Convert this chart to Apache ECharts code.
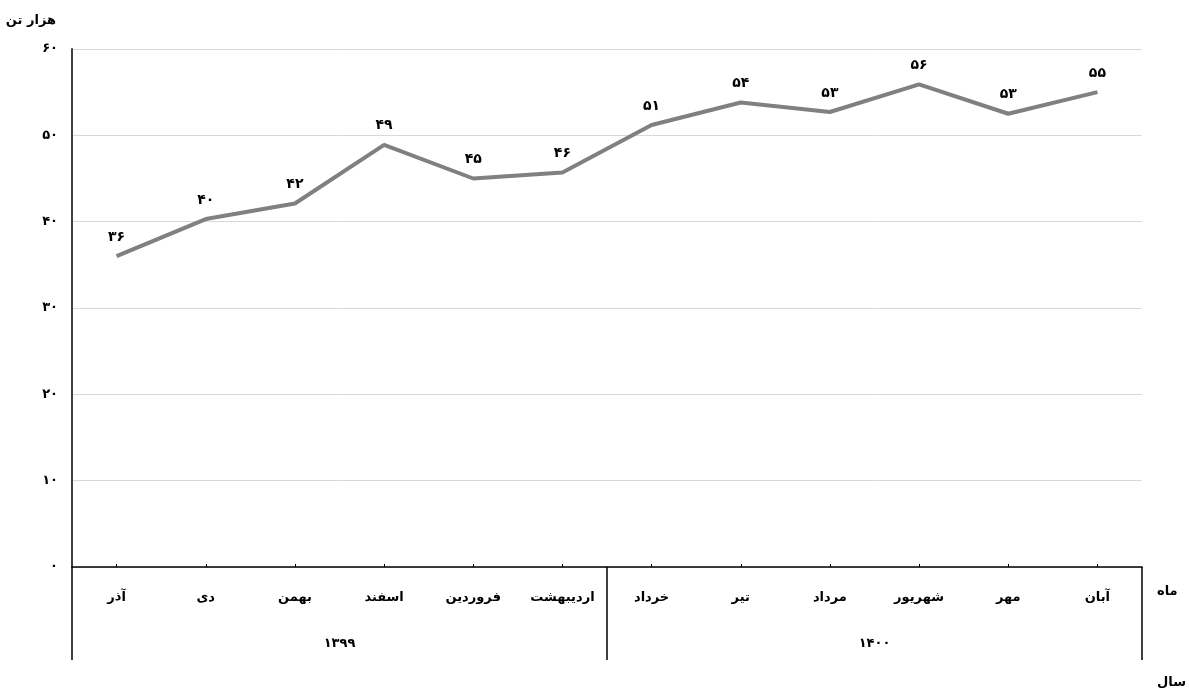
<!DOCTYPE html>
<html><head><meta charset="utf-8">
<script src="https://cdn.jsdelivr.net/npm/echarts@6/dist/echarts.min.js"></script>
<style>html,body{margin:0;padding:0;background:#fff}#c{width:1189px;height:694px}</style>
</head><body><div id="c"></div>
<script>
const months = ['آذر','دی','بهمن','اسفند','فروردین','اردیبهشت','خرداد','تیر','مرداد','شهریور','مهر','آبان'];
const years = ['۱۳۹۹','۱۴۰۰'];
const values = [36.0, 40.3, 42.1, 48.9, 45.0, 45.7, 51.2, 53.8, 52.7, 55.9, 52.5, 55.0];

const fa = n => String(n).replace(/[0-9]/g, d => '۰۱۲۳۴۵۶۷۸۹'[d]);
const FONT = 'DejaVu Sans';

const chart = echarts.init(document.getElementById('c'));
chart.setOption({
  animation: false,
  textStyle: {fontFamily: FONT},
  grid: {left: 72, right: 47, top: 49, bottom: 127},
  xAxis: [{
    type: 'category', data: months, boundaryGap: true, position: 'bottom',
    axisLine: {show: true, lineStyle: {color: '#000', width: 1.5}},
    axisTick: {show: true, inside: true, alignWithLabel: true, length: 3, lineStyle: {color: '#000'}},
    axisLabel: {color: '#000', fontSize: 13, fontWeight: 'bold', margin: 24, fontFamily: FONT},
    splitLine: {show: false}
  }, {
    type: 'category', data: years, boundaryGap: true, position: 'bottom',
    axisLine: {show: false},
    axisTick: {show: true, length: 93, lineStyle: {color: '#000', width: 1.5}},
    axisLabel: {color: '#000', fontSize: 13, fontWeight: 'bold', margin: 70, fontFamily: FONT},
    splitLine: {show: false}
  }],
  yAxis: {
    type: 'value', min: 0, max: 60, interval: 10,
    name: 'هزار تن', nameLocation: 'end', nameGap: 22,
    nameTextStyle: {color: '#000', fontSize: 13, fontWeight: 'bold', align: 'right', padding: [0, 16, 0, 0], fontFamily: FONT},
    axisLine: {show: true, lineStyle: {color: '#404040', width: 2}},
    axisTick: {show: false},
    axisLabel: {color: '#000', fontSize: 13, fontWeight: 'bold', margin: 14, formatter: v => fa(v), fontFamily: FONT},
    splitLine: {show: true, lineStyle: {color: '#d9d9d9', width: 1}}
  },
  graphic: [
    {type: 'text', left: 1157, top: 585, style: {text: 'ماه', fill: '#000', font: 'bold 13px "DejaVu Sans"'}},
    {type: 'text', left: 1157, top: 676, style: {text: 'سال', fill: '#000', font: 'bold 13px "DejaVu Sans"'}}
  ],
  series: [{
    type: 'line', xAxisIndex: 0, yAxisIndex: 0, data: values,
    symbol: 'circle', symbolSize: 2, showSymbol: true,
    itemStyle: {color: 'rgba(128,128,128,0)'},
    lineStyle: {color: '#808080', width: 4},
    label: {show: true, position: 'top', distance: 11, color: '#000', fontWeight: 'bold', fontSize: 14,
      fontFamily: FONT, formatter: function (p) { return fa(Math.round(p.value)); }}
  }]
});
</script></body></html>
